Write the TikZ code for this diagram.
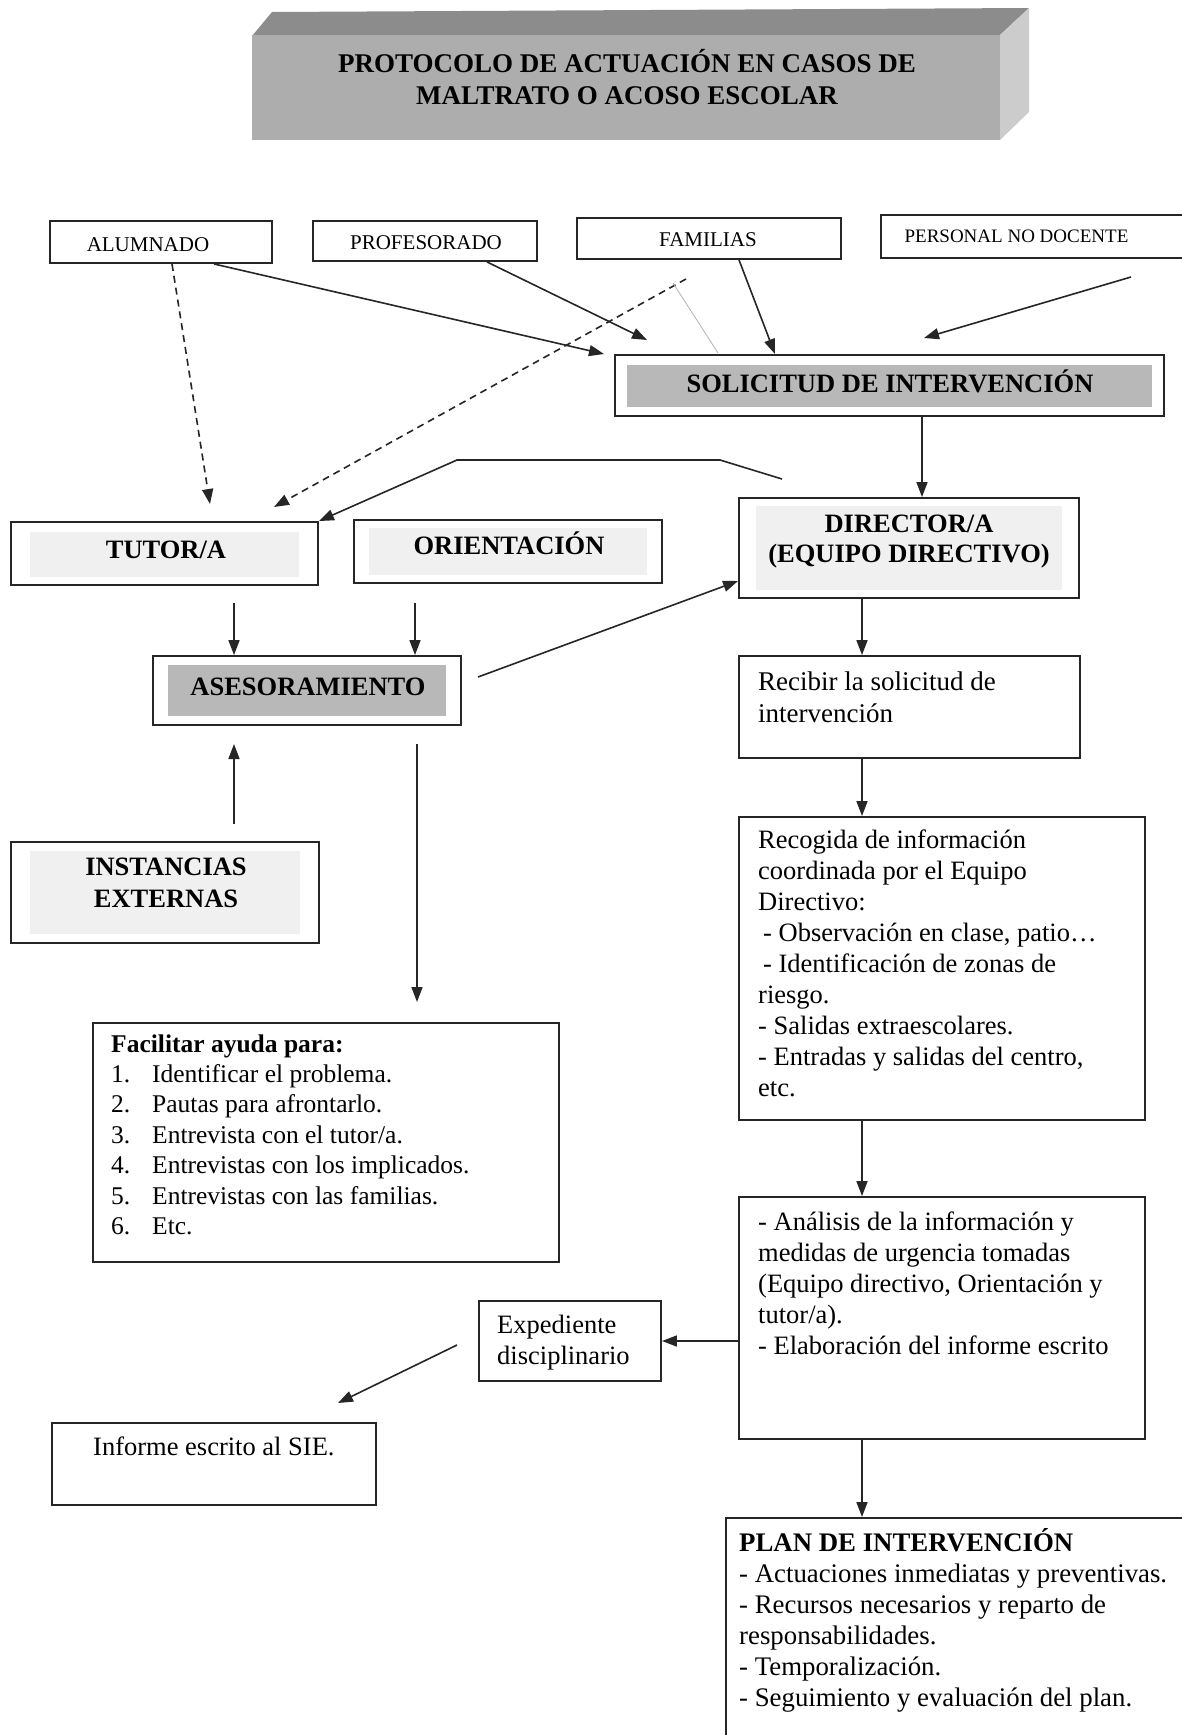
\documentclass[tikz,border=0pt]{standalone}
\usepackage{fontspec}
\setmainfont{Liberation Serif}
\usetikzlibrary{arrows.meta,calc}
\newcommand\bx[5]{\node[box, minimum width=#4pt, minimum height=#5pt] (#1) at (#2,#3) {};}
\newcommand\lbox[3]{\node[anchor=base west, inner sep=0pt] (#1) at (#2) {\parbox[t]{470pt}{\raggedright #3}};}
\newcommand\fbody{\fontsize{26.5}{31}\selectfont}
\newcommand\fhead{\fontsize{26.5}{31}\selectfont\bfseries}
\newcommand\flab{\fontsize{21}{25}\selectfont}
\begin{document}
\begin{tikzpicture}[x=1pt,y=-1pt,
  box/.style={draw=black!85, line width=1.9pt, rectangle, inner sep=0pt},
  arr/.style={draw=black!85, line width=1.6pt, -{Triangle[length=15pt,width=11pt]}},
  dsh/.style={arr, dash pattern=on 7pt off 5pt},
  lab/.style={anchor=base, inner sep=0pt, font=\flab},
  head/.style={anchor=base, inner sep=0pt, font=\fhead},
  lightshade/.style={fill=black!6},
  darkshade/.style={fill=black!28}]
\useasboundingbox (0,0) rectangle (1182,1735);
\fill[white] (0,0) rectangle (1182,1735);

% ---- title banner
\fill[black!45] (252,36) -- (272,12) -- (1029,8) -- (1000,35) -- cycle;
\fill[black!20] (1000,35) -- (1029,8) -- (1029,112) -- (1000,140) -- cycle;
\fill[black!32] (252,35) rectangle (1000,140);
\node[head, font=\fontsize{27}{32}\selectfont\bfseries] (t1) at (627,72) {PROTOCOLO DE ACTUACIÓN EN CASOS DE};
\node[head, font=\fontsize{27}{32}\selectfont\bfseries] (t2) at (627,104) {MALTRATO O ACOSO ESCOLAR};

% ---- shading inside boxes
\fill[darkshade] (627,365) rectangle (1152,407);
\fill[lightshade] (30,532) rectangle (299,577);
\fill[lightshade] (369,528) rectangle (647,575);
\fill[darkshade] (168,665) rectangle (446,716);
\fill[lightshade] (30,851) rectangle (300,934);
\fill[lightshade] (756,506) rectangle (1062,590);

% ---- boxes
\bx{alum}{161}{242}{222}{42}
\bx{prof}{425}{241}{224}{40}
\bx{fam}{709}{238.5}{264}{41}
\bx{pnd}{1033}{236.5}{304}{43}
\bx{sol}{889.5}{385.5}{549}{61}
\bx{tut}{164.5}{553.5}{307}{63}
\bx{ori}{508}{551.5}{308}{63}
\bx{dir}{909}{548}{340}{100}
\bx{ase}{307}{690.5}{308}{69}
\bx{rec}{909.5}{707}{341}{102}
\bx{inst}{165}{892.5}{308}{101}
\bx{rcg}{942}{968.5}{406}{303}
\bx{fac}{326}{1142.5}{466}{239}
\bx{ana}{942}{1318}{406}{242}
\bx{exp}{570}{1341}{182}{80}
\bx{inf}{214}{1464}{324}{82}
\bx{plan}{955.5}{1631.5}{459}{227}

% ---- labels
\node[lab] (alum-t) at (148,251.5) {ALUMNADO};
\node[lab] (prof-t) at (426,249.5) {PROFESORADO};
\node[lab] (fam-t) at (708,246) {FAMILIAS};
\node[lab, font=\fontsize{19}{23}\selectfont] (pnd-t) at (1016.5,242) {PERSONAL NO DOCENTE};
\node[head] (sol-t) at (890,392) {SOLICITUD DE INTERVENCIÓN};
\node[head] (tut-t) at (166,558) {TUTOR/A};
\node[head] (ori-t) at (509,554.5) {ORIENTACIÓN};
\node[head] (ase-t) at (308,695) {ASESORAMIENTO};
\node[head] (inst-t1) at (166,875) {INSTANCIAS};
\node[head] (inst-t2) at (166,907.5) {EXTERNAS};
\node[head] (dir-t1) at (909,532) {DIRECTOR/A};
\node[head] (dir-t2) at (909,562) {(EQUIPO DIRECTIVO)};

\lbox{rec-t}{758,690}{\fontsize{27}{32}\selectfont Recibir la solicitud de\\intervención}
\lbox{rcg-t}{758,848}{\fbody Recogida de información\\coordinada por el Equipo\\Directivo:\\\hspace*{5pt}- Observación en clase, patio…\\\hspace*{5pt}- Identificación de zonas de\\riesgo.\\- Salidas extraescolares.\\- Entradas y salidas del centro,\\etc.}
\lbox{fac-t}{111,1052}{\fontsize{25.5}{30.4}\selectfont \textbf{Facilitar ayuda para:}\\\makebox[41pt][l]{1.}Identificar el problema.\\\makebox[41pt][l]{2.}Pautas para afrontarlo.\\\makebox[41pt][l]{3.}Entrevista con el tutor/a.\\\makebox[41pt][l]{4.}Entrevistas con los implicados.\\\makebox[41pt][l]{5.}Entrevistas con las familias.\\\makebox[41pt][l]{6.}Etc.}
\lbox{ana-t}{758,1230}{\fbody - Análisis de la información y\\medidas de urgencia tomadas\\(Equipo directivo, Orientación y\\tutor/a).\\- Elaboración del informe escrito}
\lbox{exp-t}{497,1333}{\fbody Expediente\\disciplinario}
\lbox{inf-t}{93,1455}{\fbody Informe escrito al SIE.}
\lbox{plan-t}{739,1551}{\fontsize{26.8}{31}\selectfont \textbf{PLAN DE INTERVENCIÓN}\\- Actuaciones inmediatas y preventivas.\\- Recursos necesarios y reparto de\\responsabilidades.\\- Temporalización.\\- Seguimiento y evaluación del plan.}

% ---- free ends of connectors
\coordinate (a1) at (604,354);
\coordinate (a2) at (647,340);
\coordinate (a3s) at (1131,277);
\coordinate (a3e) at (924,338);
\coordinate (a4) at (210,504);
\coordinate (a5s) at (686,279);
\coordinate (a5e) at (274,507);
\coordinate (f1) at (673,283);
\coordinate (f2) at (718,353);
\coordinate (d1) at (782,479);
\coordinate (d2) at (720,460);
\coordinate (d3) at (457,460);
\coordinate (tA) at (234,603);
\coordinate (oA) at (415,603);
\coordinate (aseR) at (478,677);
\coordinate (instU) at (234,824);
\coordinate (aseU) at (234,744);
\coordinate (aseD1) at (417,744);
\coordinate (aseD2) at (417,1002);
\coordinate (e1) at (457,1345);
\coordinate (e2) at (338,1403);
\coordinate (colA) at (922,0);
\coordinate (colB) at (862,0);

% ---- connectors
\draw[arr] ([xshift=53pt]alum.south) -- (a1);
\draw[arr] ([xshift=62pt]prof.south) -- (a2);
\draw[arr] ([xshift=30pt]fam.south) -- ([xshift=-114.5pt]sol.north);
\draw[arr] (a3s) -- (a3e);
\draw[dsh] ([xshift=11pt]alum.south) -- (a4);
\draw[dsh] (a5s) -- (a5e);
\draw[black!30, line width=0.8pt] (f1) -- (f2);
\draw[arr] (sol.south -| colA) -- (dir.north -| colA);
\draw[arr] (d1) -- (d2) -- (d3) -- (tut.north east);
\draw[arr] (tA) -- (ase.north -| tA);
\draw[arr] (oA) -- (ase.north -| oA);
\draw[arr] (aseR) -- ([yshift=-33pt]dir.west);
\draw[arr] (instU) -- (aseU);
\draw[arr] (aseD1) -- (aseD2);
\draw[arr] (dir.south -| colB) -- (rec.north -| colB);
\draw[arr] (rec.south -| colB) -- (rcg.north -| colB);
\draw[arr] (rcg.south -| colB) -- (ana.north -| colB);
\draw[arr] (ana.west |- exp.east) -- (exp.east);
\draw[arr] (e1) -- (e2);
\draw[arr] (ana.south -| colB) -- (plan.north -| colB);
\end{tikzpicture}
\end{document}
